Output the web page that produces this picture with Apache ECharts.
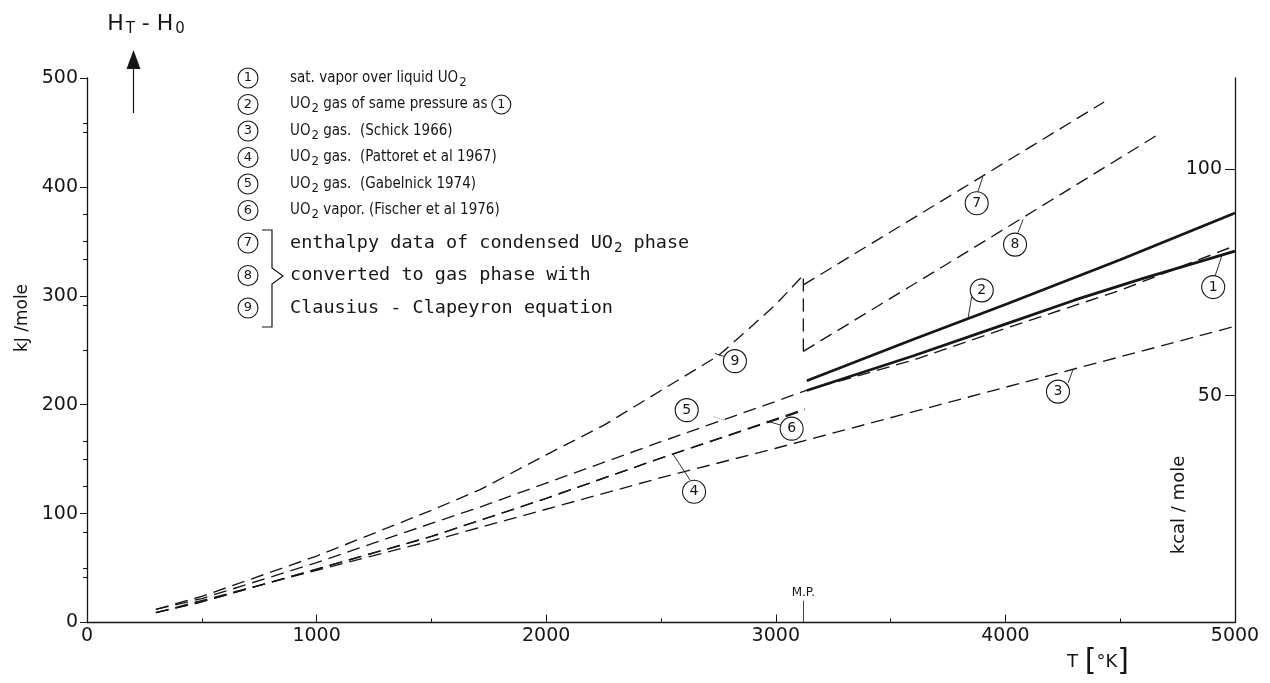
<!DOCTYPE html>
<html>
<head>
<meta charset="utf-8">
<title>Enthalpy of UO2 vapour and gas</title>
<script src="https://cdn.jsdelivr.net/npm/echarts@6.0.0/dist/echarts.min.js"></script>
<style>
  html, body { margin: 0; padding: 0; background: #fff; }
  #chart { width: 1270px; height: 683px; }
</style>
</head>
<body>
<div id="chart"></div>
<script>
// ---- axis ranges and ticks -------------------------------------------------
const tempMin = 0, tempMax = 5000, tempStep = 1000;      // T [K]
const kjMin = 0, kjMax = 500, kjStep = 100;              // kJ/mole
const kcalTop = 120;                                     // kcal/mole at the top of the frame
const kcalMajor = [0, 50, 100];
const kcalLabels = [50, 100];
const kcalMinor = [10, 20, 30, 40, 60, 70, 80, 90, 110];
const meltingPoint = 3120;

// ---- enthalpy curves: [T in K, H_T - H_0 in kJ/mole] -----------------------
const curve1 = [[3135, 213], [3600, 245], [4000, 274], [4300, 296], [4600, 316], [5000, 341]];
const curve2 = [[3135, 222], [3600, 260], [4000, 292], [4500, 333], [5000, 376]];
const curve3 = [[300, 9], [1000, 48], [1500, 75], [2000, 104], [2500, 133], [3000, 160],
                [3500, 188], [4000, 216], [4500, 244], [5000, 272]];
const curve4 = [[300, 9], [500, 19], [1000, 49], [1500, 79], [2000, 114], [2500, 151], [3127, 195]];
const curve5 = [[300, 12], [500, 22], [1000, 55], [1500, 91], [1712, 106], [2000, 128], [2250, 147],
                [2500, 166], [2770, 186], [3000, 203], [3130, 213], [3600, 241], [4000, 270],
                [4500, 305], [5000, 346]];
const curve6 = [[300, 9], [500, 19], [1000, 49], [1500, 79], [2000, 114], [2500, 151], [3127, 196]];
const curve7 = [[3120, 310], [3800, 397], [4430, 478]];
const curve8 = [[3120, 249], [3900, 349], [4680, 450]];
const curve9 = [[300, 12], [500, 24], [1000, 61], [1500, 103], [1712, 122], [2000, 154], [2250, 181],
                [2500, 213], [2750, 245], [2900, 273], [3000, 292], [3120, 319], [3120, 249]];

// circled curve numbers on the plot and their leader lines, in data units
const curveTags = {
  '1': { at: [4905, 308], leader: [[4913, 318], [4943, 337]] },
  '2': { at: [3897, 305], leader: [[3853, 299], [3838, 280]] },
  '3': { at: [4229, 212], leader: [[4273, 220], [4294, 232]] },
  '4': { at: [2644, 120], leader: [[2626, 131], [2554, 154]] },
  '5': { at: [2612, 195], leader: [[2728, 189], [2774, 186]], faint: true },
  '6': { at: [3069, 178], leader: [[3026, 181], [2960, 185]] },
  '7': { at: [3875, 385], leader: [[3881, 396], [3901, 409]] },
  '8': { at: [4042, 347], leader: [[4055, 358], [4077, 370]] },
  '9': { at: [2822, 240], leader: [[2779, 244], [2735, 247]] }
};

// key: segments are [style, text]; 's' is a subscript, 'c' a circled number
const keyRows = [
  [['t', 'sat. vapor over liquid UO'], ['s', '2']],
  [['t', 'UO'], ['s', '2'], ['t', ' gas of same pressure as '], ['c', '1']],
  [['t', 'UO'], ['s', '2'], ['t', ' gas.  (Schick 1966)']],
  [['t', 'UO'], ['s', '2'], ['t', ' gas.  (Pattoret et al 1967)']],
  [['t', 'UO'], ['s', '2'], ['t', ' gas.  (Gabelnick 1974)']],
  [['t', 'UO'], ['s', '2'], ['t', ' vapor. (Fischer et al 1976)']],
  [['T', 'enthalpy data of condensed UO'], ['S', '2'], ['T', ' phase']],
  [['T', 'converted to gas phase with']],
  [['T', 'Clausius - Clapeyron equation']]
];

const INK = '#161616';
const FONT = '"DejaVu Sans", sans-serif';
const NARROW = '"DejaVu Sans Condensed", "Liberation Sans Narrow", "DejaVu Sans", sans-serif';
const MONO = '"DejaVu Sans Mono", monospace';

const chart = echarts.init(document.getElementById('chart'), null, { renderer: 'canvas' });

const solidCurves = { '1': curve1, '2': curve2 };
const dashedCurves = { '3': curve3, '4': curve4, '5': curve5, '6': curve6, '7': curve7, '8': curve8, '9': curve9 };

function curveSeries(id, data, solid) {
  const tag = curveTags[id];
  return {
    name: id,
    type: 'line',
    data: data,
    symbol: 'none',
    silent: true,
    z: solid ? 4 : 3,
    lineStyle: { color: INK, width: solid ? 2.7 : 1.35, type: solid ? 'solid' : [13, 7], cap: 'butt' },
    emphasis: { disabled: true },
    markLine: {
      silent: true,
      symbol: ['none', 'none'],
      animation: false,
      label: { show: false },
      emphasis: { disabled: true },
      lineStyle: tag.faint
        ? { color: '#9a9a9a', width: 1, type: 'dotted' }
        : { color: INK, width: 0.9, type: 'solid' },
      data: [[{ coord: tag.leader[0] }, { coord: tag.leader[1] }]]
    },
    markPoint: {
      silent: true,
      symbol: 'circle',
      symbolSize: 23,
      animation: false,
      itemStyle: { color: '#fff', borderColor: INK, borderWidth: 1.1 },
      label: { show: true, formatter: '{b}', color: INK, fontSize: 14, fontFamily: FONT },
      data: [{ name: id, coord: tag.at }]
    }
  };
}

const series = [];
Object.keys(dashedCurves).forEach(k => series.push(curveSeries(k, dashedCurves[k], false)));
Object.keys(solidCurves).forEach(k => series.push(curveSeries(k, solidCurves[k], true)));

// melting point marker on the temperature axis
series.push({
  name: 'M.P.',
  type: 'line',
  data: [],
  silent: true,
  markLine: {
    silent: true,
    symbol: ['none', 'none'],
    animation: false,
    lineStyle: { color: INK, width: 0.8, type: 'solid' },
    label: { show: true, position: 'end', formatter: 'M.P.', color: INK, fontSize: 12,
             fontFamily: FONT, distance: 2 },
    data: [[{ coord: [meltingPoint, 0] }, { coord: [meltingPoint, 20] }]]
  }
});

// ---- key block, title and axis captions -----------------------------------
const keyX = 248, keyTextX = 290;
const keyRowY = [78, 104.5, 131, 157.5, 184, 210.5, 243, 275.5, 308];

const keyRich = {
  t: { fontSize: 15, fontFamily: NARROW, fill: INK, lineHeight: 17 },
  s: { fontSize: 13, fontFamily: NARROW, fill: INK, lineHeight: 13, padding: [9, 0, 0, 1] },
  T: { fontSize: 18.5, fontFamily: MONO, fill: INK, lineHeight: 19 },
  S: { fontSize: 14, fontFamily: MONO, fill: INK, lineHeight: 14, padding: [10, 0, 0, 1] },
  c: { fontSize: 12.5, fontFamily: FONT, fill: INK, width: 19, height: 19, lineHeight: 19,
       align: 'center', borderColor: INK, borderWidth: 1.1, borderRadius: 10 }
};

const graphics = [];
keyRows.forEach((segs, i) => {
  const y = keyRowY[i];
  graphics.push({ type: 'circle', silent: true, shape: { cx: keyX, cy: y, r: 10 },
                  style: { fill: '#fff', stroke: INK, lineWidth: 1.1 } });
  graphics.push({ type: 'text', silent: true, x: keyX, y: y,
                  style: { text: String(i + 1), fontSize: 13, fontFamily: FONT, fill: INK,
                           align: 'center', verticalAlign: 'middle' } });
  graphics.push({ type: 'text', silent: true, x: keyTextX, y: y,
                  style: { text: segs.map(s => '{' + s[0] + '|' + s[1] + '}').join(''),
                           rich: keyRich, align: 'left', verticalAlign: 'middle' } });
});

// bracket grouping entries 7-9
graphics.push({
  type: 'polyline', silent: true,
  shape: { points: [[262, 230], [272, 230], [272, 268], [283, 276], [272, 284], [272, 327], [262, 327]] },
  style: { fill: null, stroke: INK, lineWidth: 1.2 }
});

// ordinate heading with arrow
graphics.push({
  type: 'text', silent: true, x: 146, y: 24,
  style: {
    text: '{h|H}{u|T}{h| - H}{u|0}', align: 'center', verticalAlign: 'middle',
    rich: {
      h: { fontSize: 22, fontFamily: FONT, fill: INK, lineHeight: 24 },
      u: { fontSize: 15, fontFamily: FONT, fill: INK, lineHeight: 15, padding: [10, 0, 0, 2] }
    }
  }
});
graphics.push({ type: 'polygon', silent: true, shape: { points: [[133.5, 50], [126.5, 69], [140.5, 69]] },
                style: { fill: INK } });
graphics.push({ type: 'line', silent: true, shape: { x1: 133.5, y1: 68, x2: 133.5, y2: 113 },
                style: { stroke: INK, lineWidth: 1.2 } });

// axis captions
graphics.push({ type: 'text', silent: true, x: 23, y: 318, rotation: Math.PI / 2,
                style: { text: 'kJ /mole', fontSize: 17, fontFamily: FONT, fill: INK,
                         align: 'center', verticalAlign: 'middle' } });
graphics.push({ type: 'text', silent: true, x: 1179, y: 505, rotation: Math.PI / 2,
                style: { text: 'kcal / mole', fontSize: 18, fontFamily: FONT, fill: INK,
                         align: 'center', verticalAlign: 'middle' } });
graphics.push({
  type: 'text', silent: true, x: 1098, y: 662,
  style: {
    text: '{t|T}  {b|[}{t|°K}{b|]}', align: 'center', verticalAlign: 'middle',
    rich: {
      t: { fontSize: 18, fontFamily: FONT, fill: INK, lineHeight: 30 },
      b: { fontSize: 30, fontFamily: FONT, fill: INK, lineHeight: 30 }
    }
  }
});

const axisText = { color: INK, fontSize: 19, fontFamily: FONT };
const plainNumber = v => String(v);

const option = {
  animation: false,
  backgroundColor: '#fff',
  grid: { left: 87, right: 35, top: 78, bottom: 60.5, containLabel: false, outerBoundsMode: 'none' },
  xAxis: {
    type: 'value', min: tempMin, max: tempMax, interval: tempStep,
    axisLine: { show: true, onZero: false, lineStyle: { color: INK, width: 1.3 } },
    axisTick: { show: true, inside: true, length: 8, lineStyle: { color: INK, width: 1 } },
    minorTick: { show: true, splitNumber: 2, length: 4, lineStyle: { color: INK, width: 1 } },
    axisLabel: Object.assign({ margin: 4, formatter: plainNumber }, axisText),
    splitLine: { show: false }
  },
  yAxis: [
    {
      type: 'value', min: kjMin, max: kjMax, interval: kjStep, position: 'left',
      axisLine: { show: true, onZero: false, lineStyle: { color: INK, width: 1.3 } },
      axisTick: { show: true, inside: false, length: 7, lineStyle: { color: INK, width: 1 } },
      minorTick: { show: true, splitNumber: 2, length: 4, lineStyle: { color: INK, width: 1 } },
      axisLabel: Object.assign({ margin: 9, formatter: plainNumber }, axisText),
      splitLine: { show: false }
    },
    {
      type: 'value', min: 0, max: kcalTop, position: 'right',
      axisLine: { show: true, onZero: false, lineStyle: { color: INK, width: 1.3 } },
      axisTick: { show: true, inside: true, length: 10, customValues: kcalMajor,
                  lineStyle: { color: INK, width: 1 } },
      axisLabel: Object.assign({ inside: true, margin: 13, customValues: kcalLabels,
                                 formatter: plainNumber }, axisText),
      splitLine: { show: false }
    },
    {
      type: 'value', min: 0, max: kcalTop, position: 'right',
      axisLine: { show: false },
      axisTick: { show: true, inside: true, length: 4, customValues: kcalMinor,
                  lineStyle: { color: INK, width: 1 } },
      axisLabel: { show: false },
      splitLine: { show: false }
    }
  ],
  series: series,
  graphic: graphics
};

chart.setOption(option);
</script>
</body>
</html>
